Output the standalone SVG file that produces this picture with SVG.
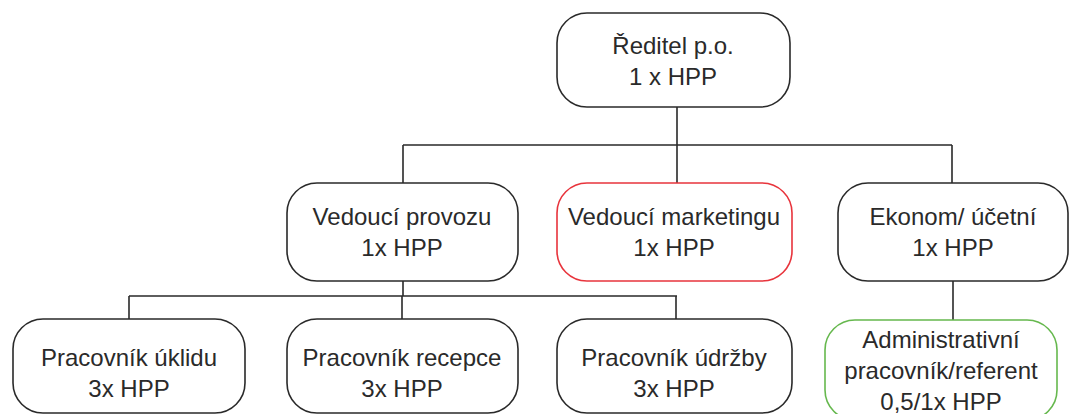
<svg xmlns="http://www.w3.org/2000/svg" width="1070" height="414" viewBox="0 0 1070 414">
<style>
.box{fill:#fff;stroke:#2a2a2a;stroke-width:1.6}
.red{stroke:#e8343c}
.green{stroke:#66b84e}
.t{font-family:"Liberation Sans",Arial,sans-serif;font-size:24px;fill:#2a2a2a;text-anchor:middle}
.c{fill:none;stroke:#2a2a2a;stroke-width:1.6}
</style>
<rect width="1070" height="414" fill="#fff"/>
<g id="connectors">
<path class="c" d="M677 107V145M403 145H952M403 145V183M677 145V183M952 145V183"/>
<path class="c" d="M403 281V296M129 296H677M129 296V319M402 296V319M676 296V319"/>
<path class="c" d="M953 281V320"/>
</g>
<g id="reditel"><rect class="box" x="557" y="13" width="233" height="94" rx="30"/>
<text class="t" x="673" y="54">Ředitel p.o.</text><text class="t" x="673" y="85">1 x HPP</text></g>
<g id="vedouci-provozu"><rect class="box" x="287" y="183" width="231" height="98" rx="30"/>
<text class="t" x="402" y="225">Vedoucí provozu</text><text class="t" x="402" y="256">1x HPP</text></g>
<g id="vedouci-marketingu"><rect class="box red" x="557" y="183" width="235" height="98" rx="30"/>
<text class="t" x="674" y="225">Vedoucí marketingu</text><text class="t" x="674" y="256">1x HPP</text></g>
<g id="ekonom"><rect class="box" x="838" y="183" width="230" height="98" rx="30"/>
<text class="t" x="953" y="225">Ekonom/ účetní</text><text class="t" x="953" y="256">1x HPP</text></g>
<g id="uklid"><rect class="box" x="13" y="319" width="232" height="94" rx="30"/>
<text class="t" x="129" y="366">Pracovník úklidu</text><text class="t" x="129" y="397">3x HPP</text></g>
<g id="recepce"><rect class="box" x="287" y="319" width="231" height="94" rx="30"/>
<text class="t" x="402" y="366">Pracovník recepce</text><text class="t" x="402" y="397">3x HPP</text></g>
<g id="udrzba"><rect class="box" x="557" y="319" width="235" height="94" rx="30"/>
<text class="t" x="674" y="366">Pracovník údržby</text><text class="t" x="674" y="397">3x HPP</text></g>
<g id="admin"><rect class="box green" x="825" y="320" width="232" height="100" rx="30"/>
<text class="t" x="941" y="348">Administrativní</text><text class="t" x="941" y="379">pracovník/referent</text><text class="t" x="941" y="410">0,5/1x HPP</text></g>
</svg>
